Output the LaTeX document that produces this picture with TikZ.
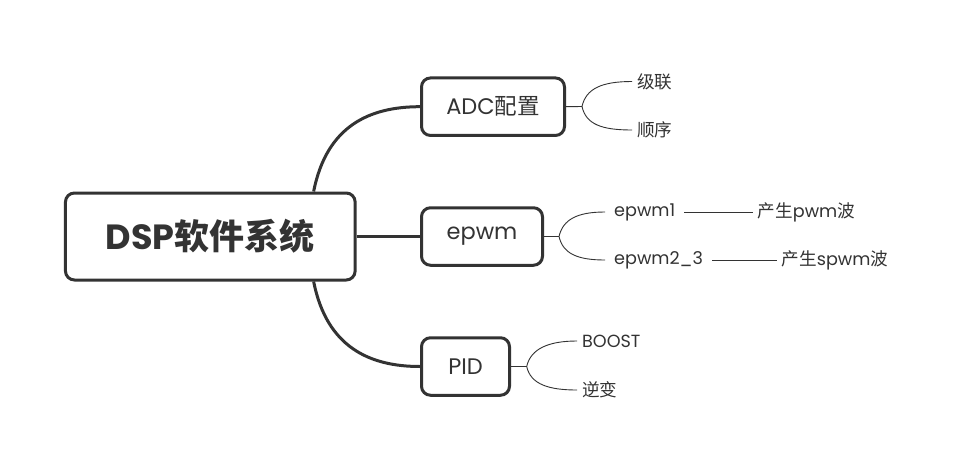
\documentclass[tikz,border=0pt]{standalone}
\usepackage{fontspec}
\setmainfont{Poppins}
\newfontfamily\cjk{Noto Sans CJK SC}
\usetikzlibrary{calc}
\definecolor{ink}{HTML}{333333}
\begin{document}
\begin{tikzpicture}[x=1pt,y=-1pt,
  mainbox/.style={draw=ink, line width=3pt, rounded corners=9pt, fill=white, text=ink, inner sep=0pt},
  rootbox/.style={mainbox, minimum width=289.7pt, minimum height=87pt, font=\fontsize{35}{38}\selectfont\bfseries},
  childbox/.style={mainbox, minimum height=57.5pt, font=\fontsize{22.5}{26}\selectfont},
  mainline/.style={draw=ink, line width=3pt},
  thinline/.style={draw=ink, line width=0.9pt},
  leaf/.style={text=ink, inner xsep=5pt, inner ysep=0pt, anchor=west, font=\fontsize{17.6}{21}\selectfont}
]
\useasboundingbox[fill=white] (0,0) rectangle (958,471);

% main nodes
\node[rootbox] (root) at (210.3,236.5) {DSP{\cjk\bfseries 软件系统}};
\node[childbox, minimum width=143pt] (adc) at (493,106.7) {ADC{\cjk 配置}};
\node[childbox, minimum width=121pt] (epwm) at (482,236.5) {epwm};
\node[childbox, minimum width=88pt] (pid) at (465.5,366.5) {PID};

% main connectors
\draw[mainline] ([xshift=-43pt]root.north east) .. controls +(13,-66) and +(-50,0) .. (adc.west);
\draw[mainline] (root.east) -- (epwm.west);
\draw[mainline] ([xshift=-43pt]root.south east) .. controls +(13,66) and +(-50,0) .. (pid.west);

% ADC leaves
\coordinate (s1) at (582,106.5);
\node[leaf] (l11) at (632,81.5) {\cjk 级联};
\node[leaf] (l12) at (632,130) {\cjk 顺序};
\draw[thinline] (adc.east) -- (s1);
\draw[thinline] (s1) .. controls +(4,-18) and +(-30,0) .. (l11.west);
\draw[thinline] (s1) .. controls +(4,18) and +(-30,0) .. (l12.west);

% epwm leaves
\coordinate (s2) at (559,236.5);
\node[leaf, inner xsep=9pt] (e1) at (605,212) {epwm1};
\node[leaf, inner xsep=9pt] (e2) at (605,260) {epwm2\_3};
\node[leaf] (p1) at (752.5,212) {{\cjk 产生}pwm{\cjk 波}};
\node[leaf] (p2) at (776.5,260) {{\cjk 产生}spwm{\cjk 波}};
\draw[thinline] (epwm.east) -- (s2);
\draw[thinline] (s2) .. controls +(4,-17) and +(-28,0) .. (e1.west);
\draw[thinline] (s2) .. controls +(4,17) and +(-28,0) .. (e2.west);
\draw[thinline] (e1.east) -- (p1.west);
\draw[thinline] (e2.east) -- (p2.west);

% PID leaves
\coordinate (s3) at (526.7,366.5);
\node[leaf] (b1) at (577,341) {BOOST};
\node[leaf] (b2) at (577,390) {\cjk 逆变};
\draw[thinline] (pid.east) -- (s3);
\draw[thinline] (s3) .. controls +(4,-18) and +(-28,0) .. (b1.west);
\draw[thinline] (s3) .. controls +(4,18) and +(-28,0) .. (b2.west);
\end{tikzpicture}
\end{document}
